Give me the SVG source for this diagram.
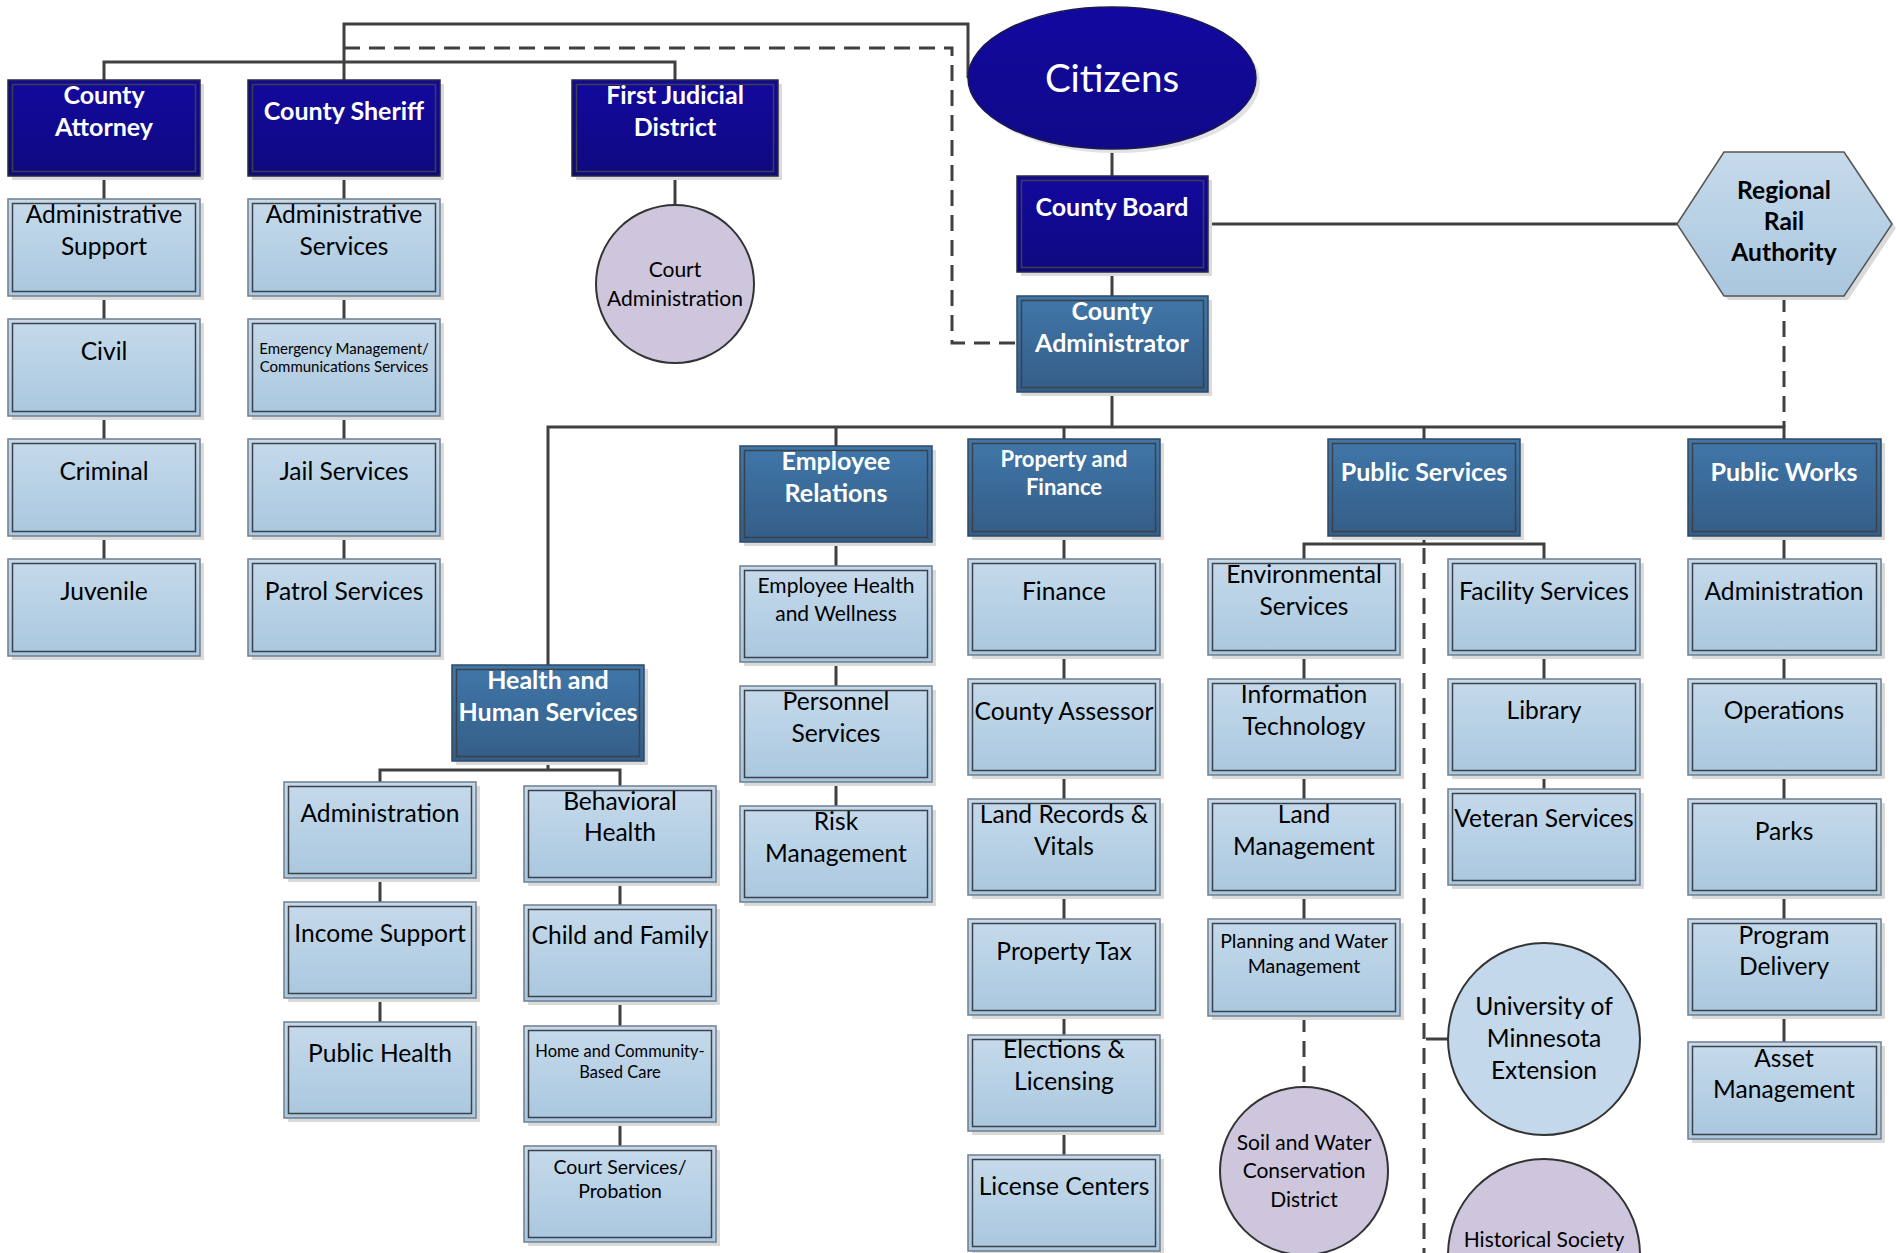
<svg xmlns="http://www.w3.org/2000/svg" width="1896" height="1253" viewBox="0 0 1896 1253">
<defs>
<linearGradient id="gNavy" x1="0" y1="0" x2="0" y2="1"><stop offset="0" stop-color="#13089f"/><stop offset="1" stop-color="#0e0a7e"/></linearGradient>
<linearGradient id="gSteel" x1="0" y1="0" x2="0" y2="1"><stop offset="0" stop-color="#4077a9"/><stop offset="1" stop-color="#345d87"/></linearGradient>
<linearGradient id="gLight" x1="0" y1="0" x2="0" y2="1"><stop offset="0" stop-color="#c6daeb"/><stop offset="1" stop-color="#a9c7df"/></linearGradient>
<linearGradient id="gCit" x1="0" y1="0" x2="0" y2="1"><stop offset="0" stop-color="#13089f"/><stop offset="1" stop-color="#0f0a88"/></linearGradient>
<style>
.sh{fill:#dadada}
.on{fill:url(#gNavy);stroke:#2a2a3a;stroke-width:1.5}
.os{fill:url(#gSteel);stroke:#2f4a66;stroke-width:1.5}
.ol{fill:url(#gLight);stroke:#6f7f8e;stroke-width:1.5}
.in{fill:none;stroke:#3c4248;stroke-width:1.5}
.t{font-family:Lato,"Liberation Sans",sans-serif;text-anchor:middle}
.w{fill:#fff;font-weight:bold;font-size:25px}
.w22{fill:#fff;font-weight:bold;font-size:22px}
.b{fill:#000;font-size:24.6px}
.b22{fill:#000;font-size:21px}
.b20{fill:#000;font-size:19.5px}
.b17{fill:#000;font-size:16.5px}
.b15{fill:#000;font-size:15px}
.cn{fill:none;stroke:#404040;stroke-width:3}
.cd{fill:none;stroke:#404040;stroke-width:3;stroke-dasharray:16 9}
.circ{stroke:#333;stroke-width:2}
</style>
</defs>

<g id="connectors">
<path class="cn" d="M104,80 V62 H675 V80"/>
<path class="cn" d="M344,80 V24 H968 V78"/>
<path class="cd" d="M344,48 H952 V343 H1017"/>
<path class="cn" d="M104,176 V199 M104,296 V319 M104,416 V439 M104,536 V559"/>
<path class="cn" d="M344,176 V199 M344,296 V319 M344,416 V439 M344,536 V559"/>
<path class="cn" d="M675,176 V205"/>
<path class="cn" d="M1112,149 V176 M1112,272 V296 M1112,392 V427"/>
<path class="cn" d="M1208,224 H1677"/>
<path class="cd" d="M1784,296 V427"/>
<path class="cn" d="M548,665 V427 H1784 V439 M836,427 V446 M1064,427 V439 M1424,427 V439"/>
<path class="cn" d="M548,761 V770 M380,782 V770 H620 V786"/>
<path class="cn" d="M380,878 V902 M380,998 V1022"/>
<path class="cn" d="M620,882 V905 M620,1001 V1026 M620,1122 V1146"/>
<path class="cn" d="M836,542 V566 M836,662 V686 M836,782 V806"/>
<path class="cn" d="M1064,536 V559 M1064,655 V679 M1064,775 V799 M1064,895 V919 M1064,1015 V1035 M1064,1131 V1155"/>
<path class="cn" d="M1424,536 V544 M1304,559 V544 H1544 V559"/>
<path class="cd" d="M1424,548 V1253"/>
<path class="cn" d="M1304,655 V679 M1304,775 V799 M1304,895 V919"/>
<path class="cn" d="M1544,655 V679 M1544,775 V789"/>
<path class="cd" d="M1304,1016 V1087"/>
<path class="cn" d="M1426,1039 H1448"/>
<path class="cn" d="M1784,536 V559 M1784,655 V679 M1784,775 V799 M1784,895 V919 M1784,1015 V1042"/>
</g>

<!-- Top row -->
<g id="county-attorney"><rect class="sh" x="12" y="84" width="192" height="96"/><rect class="on" x="8" y="80" width="192" height="96"/><rect class="in" x="12.5" y="84.5" width="183" height="87"/><text class="t w" x="104" y="104">County</text><text class="t w" x="104" y="136">Attorney</text></g>
<g id="county-sheriff"><rect class="sh" x="252" y="84" width="192" height="96"/><rect class="on" x="248" y="80" width="192" height="96"/><rect class="in" x="252.5" y="84.5" width="183" height="87"/><text class="t w" x="344" y="120">County Sheriff</text></g>
<g id="first-judicial"><rect class="sh" x="576" y="84" width="206" height="96"/><rect class="on" x="572" y="80" width="206" height="96"/><rect class="in" x="576.5" y="84.5" width="197" height="87"/><text class="t w" x="675" y="104">First Judicial</text><text class="t w" x="675" y="136">District</text></g>
<g id="court-administration"><circle class="circ" cx="675" cy="284" r="79" fill="#cec6dc"/><text class="t b22" x="675" y="277">Court</text><text class="t b22" x="675" y="306">Administration</text></g>

<g id="citizens"><ellipse cx="1116" cy="82" rx="144" ry="71" fill="#e2e2e2"/><ellipse cx="1112" cy="78" rx="144" ry="71" fill="url(#gCit)" stroke="#1a1a50" stroke-width="1.5"/><text class="t" x="1112" y="92" fill="#fff" font-size="38.5">Citizens</text></g>
<g id="county-board"><rect class="sh" x="1021" y="180" width="191" height="96"/><rect class="on" x="1017" y="176" width="191" height="96"/><rect class="in" x="1021.5" y="180.5" width="182" height="87"/><text class="t w" x="1112" y="216">County Board</text></g>
<g id="county-administrator"><rect class="sh" x="1021" y="300" width="191" height="96"/><rect class="os" x="1017" y="296" width="191" height="96"/><rect class="in" x="1021.5" y="300.5" width="182" height="87"/><text class="t w" x="1112" y="320">County</text><text class="t w" x="1112" y="352">Administrator</text></g>
<g id="regional-rail"><polygon points="1681,228 1728,156 1848,156 1896,228 1848,300 1728,300" fill="#dadada"/><polygon points="1677,224 1724,152 1844,152 1892,224 1844,296 1724,296" fill="url(#gLight)" stroke="#555" stroke-width="1.5"/><text class="t b" font-weight="bold" x="1784" y="199">Regional</text><text class="t b" font-weight="bold" x="1784" y="230">Rail</text><text class="t b" font-weight="bold" x="1784" y="261">Authority</text></g>

<!-- County Attorney column -->
<g id="admin-support"><rect class="sh" x="12" y="203" width="192" height="97"/><rect class="ol" x="8" y="199" width="192" height="97"/><rect class="in" x="12.5" y="203.5" width="183" height="88"/><text class="t b" x="104" y="223">Administrative</text><text class="t b" x="104" y="255">Support</text></g>
<g id="civil"><rect class="sh" x="12" y="323" width="192" height="97"/><rect class="ol" x="8" y="319" width="192" height="97"/><rect class="in" x="12.5" y="323.5" width="183" height="88"/><text class="t b" x="104" y="360">Civil</text></g>
<g id="criminal"><rect class="sh" x="12" y="443" width="192" height="97"/><rect class="ol" x="8" y="439" width="192" height="97"/><rect class="in" x="12.5" y="443.5" width="183" height="88"/><text class="t b" x="104" y="480">Criminal</text></g>
<g id="juvenile"><rect class="sh" x="12" y="563" width="192" height="97"/><rect class="ol" x="8" y="559" width="192" height="97"/><rect class="in" x="12.5" y="563.5" width="183" height="88"/><text class="t b" x="104" y="600">Juvenile</text></g>

<!-- Sheriff column -->
<g id="admin-services"><rect class="sh" x="252" y="203" width="192" height="97"/><rect class="ol" x="248" y="199" width="192" height="97"/><rect class="in" x="252.5" y="203.5" width="183" height="88"/><text class="t b" x="344" y="223">Administrative</text><text class="t b" x="344" y="255">Services</text></g>
<g id="emergency-mgmt"><rect class="sh" x="252" y="323" width="192" height="97"/><rect class="ol" x="248" y="319" width="192" height="97"/><rect class="in" x="252.5" y="323.5" width="183" height="88"/><text class="t b15" x="344" y="354">Emergency Management/</text><text class="t b15" x="344" y="372">Communications Services</text></g>
<g id="jail-services"><rect class="sh" x="252" y="443" width="192" height="97"/><rect class="ol" x="248" y="439" width="192" height="97"/><rect class="in" x="252.5" y="443.5" width="183" height="88"/><text class="t b" x="344" y="480">Jail Services</text></g>
<g id="patrol-services"><rect class="sh" x="252" y="563" width="192" height="97"/><rect class="ol" x="248" y="559" width="192" height="97"/><rect class="in" x="252.5" y="563.5" width="183" height="88"/><text class="t b" x="344" y="600">Patrol Services</text></g>

<!-- HHS -->
<g id="hhs"><rect class="sh" x="456" y="669" width="192" height="96"/><rect class="os" x="452" y="665" width="192" height="96"/><rect class="in" x="456.5" y="669.5" width="183" height="87"/><text class="t w" x="548" y="689">Health and</text><text class="t w" x="548" y="721">Human Services</text></g>
<g id="hhs-admin"><rect class="sh" x="288" y="786" width="192" height="96"/><rect class="ol" x="284" y="782" width="192" height="96"/><rect class="in" x="288.5" y="786.5" width="183" height="87"/><text class="t b" x="380" y="822">Administration</text></g>
<g id="income-support"><rect class="sh" x="288" y="906" width="192" height="96"/><rect class="ol" x="284" y="902" width="192" height="96"/><rect class="in" x="288.5" y="906.5" width="183" height="87"/><text class="t b" x="380" y="942">Income Support</text></g>
<g id="public-health"><rect class="sh" x="288" y="1026" width="192" height="96"/><rect class="ol" x="284" y="1022" width="192" height="96"/><rect class="in" x="288.5" y="1026.5" width="183" height="87"/><text class="t b" x="380" y="1062">Public Health</text></g>
<g id="behavioral-health"><rect class="sh" x="528" y="790" width="192" height="96"/><rect class="ol" x="524" y="786" width="192" height="96"/><rect class="in" x="528.5" y="790.5" width="183" height="87"/><text class="t b" x="620" y="810">Behavioral</text><text class="t b" x="620" y="841">Health</text></g>
<g id="child-family"><rect class="sh" x="528" y="909" width="192" height="96"/><rect class="ol" x="524" y="905" width="192" height="96"/><rect class="in" x="528.5" y="909.5" width="183" height="87"/><text class="t b" x="620" y="944">Child and Family</text></g>
<g id="home-community"><rect class="sh" x="528" y="1030" width="192" height="96"/><rect class="ol" x="524" y="1026" width="192" height="96"/><rect class="in" x="528.5" y="1030.5" width="183" height="87"/><text class="t b17" x="620" y="1057">Home and Community-</text><text class="t b17" x="620" y="1078">Based Care</text></g>
<g id="court-services"><rect class="sh" x="528" y="1150" width="192" height="96"/><rect class="ol" x="524" y="1146" width="192" height="96"/><rect class="in" x="528.5" y="1150.5" width="183" height="87"/><text class="t b20" x="620" y="1174">Court Services/</text><text class="t b20" x="620" y="1198">Probation</text></g>

<!-- Employee Relations -->
<g id="employee-relations"><rect class="sh" x="744" y="450" width="192" height="96"/><rect class="os" x="740" y="446" width="192" height="96"/><rect class="in" x="744.5" y="450.5" width="183" height="87"/><text class="t w" x="836" y="470">Employee</text><text class="t w" x="836" y="502">Relations</text></g>
<g id="employee-health"><rect class="sh" x="744" y="570" width="192" height="96"/><rect class="ol" x="740" y="566" width="192" height="96"/><rect class="in" x="744.5" y="570.5" width="183" height="87"/><text class="t b22" x="836" y="593">Employee Health</text><text class="t b22" x="836" y="621">and Wellness</text></g>
<g id="personnel-services"><rect class="sh" x="744" y="690" width="192" height="96"/><rect class="ol" x="740" y="686" width="192" height="96"/><rect class="in" x="744.5" y="690.5" width="183" height="87"/><text class="t b" x="836" y="710">Personnel</text><text class="t b" x="836" y="742">Services</text></g>
<g id="risk-management"><rect class="sh" x="744" y="810" width="192" height="96"/><rect class="ol" x="740" y="806" width="192" height="96"/><rect class="in" x="744.5" y="810.5" width="183" height="87"/><text class="t b" x="836" y="830">Risk</text><text class="t b" x="836" y="862">Management</text></g>

<!-- Property and Finance -->
<g id="property-finance"><rect class="sh" x="972" y="443" width="192" height="97"/><rect class="os" x="968" y="439" width="192" height="97"/><rect class="in" x="972.5" y="443.5" width="183" height="88"/><text class="t w22" x="1064" y="467">Property and</text><text class="t w22" x="1064" y="495">Finance</text></g>
<g id="finance"><rect class="sh" x="972" y="563" width="192" height="96"/><rect class="ol" x="968" y="559" width="192" height="96"/><rect class="in" x="972.5" y="563.5" width="183" height="87"/><text class="t b" x="1064" y="600">Finance</text></g>
<g id="county-assessor"><rect class="sh" x="972" y="683" width="192" height="96"/><rect class="ol" x="968" y="679" width="192" height="96"/><rect class="in" x="972.5" y="683.5" width="183" height="87"/><text class="t b" x="1064" y="720">County Assessor</text></g>
<g id="land-records"><rect class="sh" x="972" y="803" width="192" height="96"/><rect class="ol" x="968" y="799" width="192" height="96"/><rect class="in" x="972.5" y="803.5" width="183" height="87"/><text class="t b" x="1064" y="823">Land Records &amp;</text><text class="t b" x="1064" y="855">Vitals</text></g>
<g id="property-tax"><rect class="sh" x="972" y="923" width="192" height="96"/><rect class="ol" x="968" y="919" width="192" height="96"/><rect class="in" x="972.5" y="923.5" width="183" height="87"/><text class="t b" x="1064" y="960">Property Tax</text></g>
<g id="elections"><rect class="sh" x="972" y="1039" width="192" height="96"/><rect class="ol" x="968" y="1035" width="192" height="96"/><rect class="in" x="972.5" y="1039.5" width="183" height="87"/><text class="t b" x="1064" y="1058">Elections &amp;</text><text class="t b" x="1064" y="1090">Licensing</text></g>
<g id="license-centers"><rect class="sh" x="972" y="1159" width="192" height="96"/><rect class="ol" x="968" y="1155" width="192" height="96"/><rect class="in" x="972.5" y="1159.5" width="183" height="87"/><text class="t b" x="1064" y="1195">License Centers</text></g>

<!-- Public Services -->
<g id="public-services"><rect class="sh" x="1332" y="443" width="192" height="97"/><rect class="os" x="1328" y="439" width="192" height="97"/><rect class="in" x="1332.5" y="443.5" width="183" height="88"/><text class="t w" x="1424" y="481">Public Services</text></g>
<g id="environmental-services"><rect class="sh" x="1212" y="563" width="192" height="96"/><rect class="ol" x="1208" y="559" width="192" height="96"/><rect class="in" x="1212.5" y="563.5" width="183" height="87"/><text class="t b" x="1304" y="583">Environmental</text><text class="t b" x="1304" y="615">Services</text></g>
<g id="information-technology"><rect class="sh" x="1212" y="683" width="192" height="96"/><rect class="ol" x="1208" y="679" width="192" height="96"/><rect class="in" x="1212.5" y="683.5" width="183" height="87"/><text class="t b" x="1304" y="703">Information</text><text class="t b" x="1304" y="735">Technology</text></g>
<g id="land-management"><rect class="sh" x="1212" y="803" width="192" height="96"/><rect class="ol" x="1208" y="799" width="192" height="96"/><rect class="in" x="1212.5" y="803.5" width="183" height="87"/><text class="t b" x="1304" y="823">Land</text><text class="t b" x="1304" y="855">Management</text></g>
<g id="planning-water"><rect class="sh" x="1212" y="923" width="192" height="97"/><rect class="ol" x="1208" y="919" width="192" height="97"/><rect class="in" x="1212.5" y="923.5" width="183" height="88"/><text class="t b20" x="1304" y="948">Planning and Water</text><text class="t b20" x="1304" y="973">Management</text></g>
<g id="soil-water"><circle class="circ" cx="1304" cy="1171" r="84" fill="#cec6dc"/><text class="t b22" x="1304" y="1150">Soil and Water</text><text class="t b22" x="1304" y="1178">Conservation</text><text class="t b22" x="1304" y="1207">District</text></g>
<g id="facility-services"><rect class="sh" x="1452" y="563" width="192" height="96"/><rect class="ol" x="1448" y="559" width="192" height="96"/><rect class="in" x="1452.5" y="563.5" width="183" height="87"/><text class="t b" x="1544" y="600">Facility Services</text></g>
<g id="library"><rect class="sh" x="1452" y="683" width="192" height="96"/><rect class="ol" x="1448" y="679" width="192" height="96"/><rect class="in" x="1452.5" y="683.5" width="183" height="87"/><text class="t b" x="1544" y="719">Library</text></g>
<g id="veteran-services"><rect class="sh" x="1452" y="793" width="192" height="96"/><rect class="ol" x="1448" y="789" width="192" height="96"/><rect class="in" x="1452.5" y="793.5" width="183" height="87"/><text class="t b" x="1544" y="827">Veteran Services</text></g>
<g id="umn-extension"><circle class="circ" cx="1544" cy="1039" r="96" fill="#c3d8ea"/><text class="t b" x="1544" y="1015">University of</text><text class="t b" x="1544" y="1047">Minnesota</text><text class="t b" x="1544" y="1079">Extension</text></g>
<g id="historical-society"><circle class="circ" cx="1544" cy="1255" r="96" fill="#cec6dc"/><text class="t b22" x="1544" y="1247">Historical Society</text></g>

<!-- Public Works -->
<g id="public-works"><rect class="sh" x="1692" y="443" width="193" height="97"/><rect class="os" x="1688" y="439" width="193" height="97"/><rect class="in" x="1692.5" y="443.5" width="184" height="88"/><text class="t w" x="1784" y="481">Public Works</text></g>
<g id="pw-administration"><rect class="sh" x="1692" y="563" width="193" height="96"/><rect class="ol" x="1688" y="559" width="193" height="96"/><rect class="in" x="1692.5" y="563.5" width="184" height="87"/><text class="t b" x="1784" y="600">Administration</text></g>
<g id="operations"><rect class="sh" x="1692" y="683" width="193" height="96"/><rect class="ol" x="1688" y="679" width="193" height="96"/><rect class="in" x="1692.5" y="683.5" width="184" height="87"/><text class="t b" x="1784" y="719">Operations</text></g>
<g id="parks"><rect class="sh" x="1692" y="803" width="193" height="96"/><rect class="ol" x="1688" y="799" width="193" height="96"/><rect class="in" x="1692.5" y="803.5" width="184" height="87"/><text class="t b" x="1784" y="840">Parks</text></g>
<g id="program-delivery"><rect class="sh" x="1692" y="923" width="193" height="96"/><rect class="ol" x="1688" y="919" width="193" height="96"/><rect class="in" x="1692.5" y="923.5" width="184" height="87"/><text class="t b" x="1784" y="944">Program</text><text class="t b" x="1784" y="975">Delivery</text></g>
<g id="asset-management"><rect class="sh" x="1692" y="1046" width="193" height="97"/><rect class="ol" x="1688" y="1042" width="193" height="97"/><rect class="in" x="1692.5" y="1046.5" width="184" height="88"/><text class="t b" x="1784" y="1067">Asset</text><text class="t b" x="1784" y="1098">Management</text></g>
</svg>
